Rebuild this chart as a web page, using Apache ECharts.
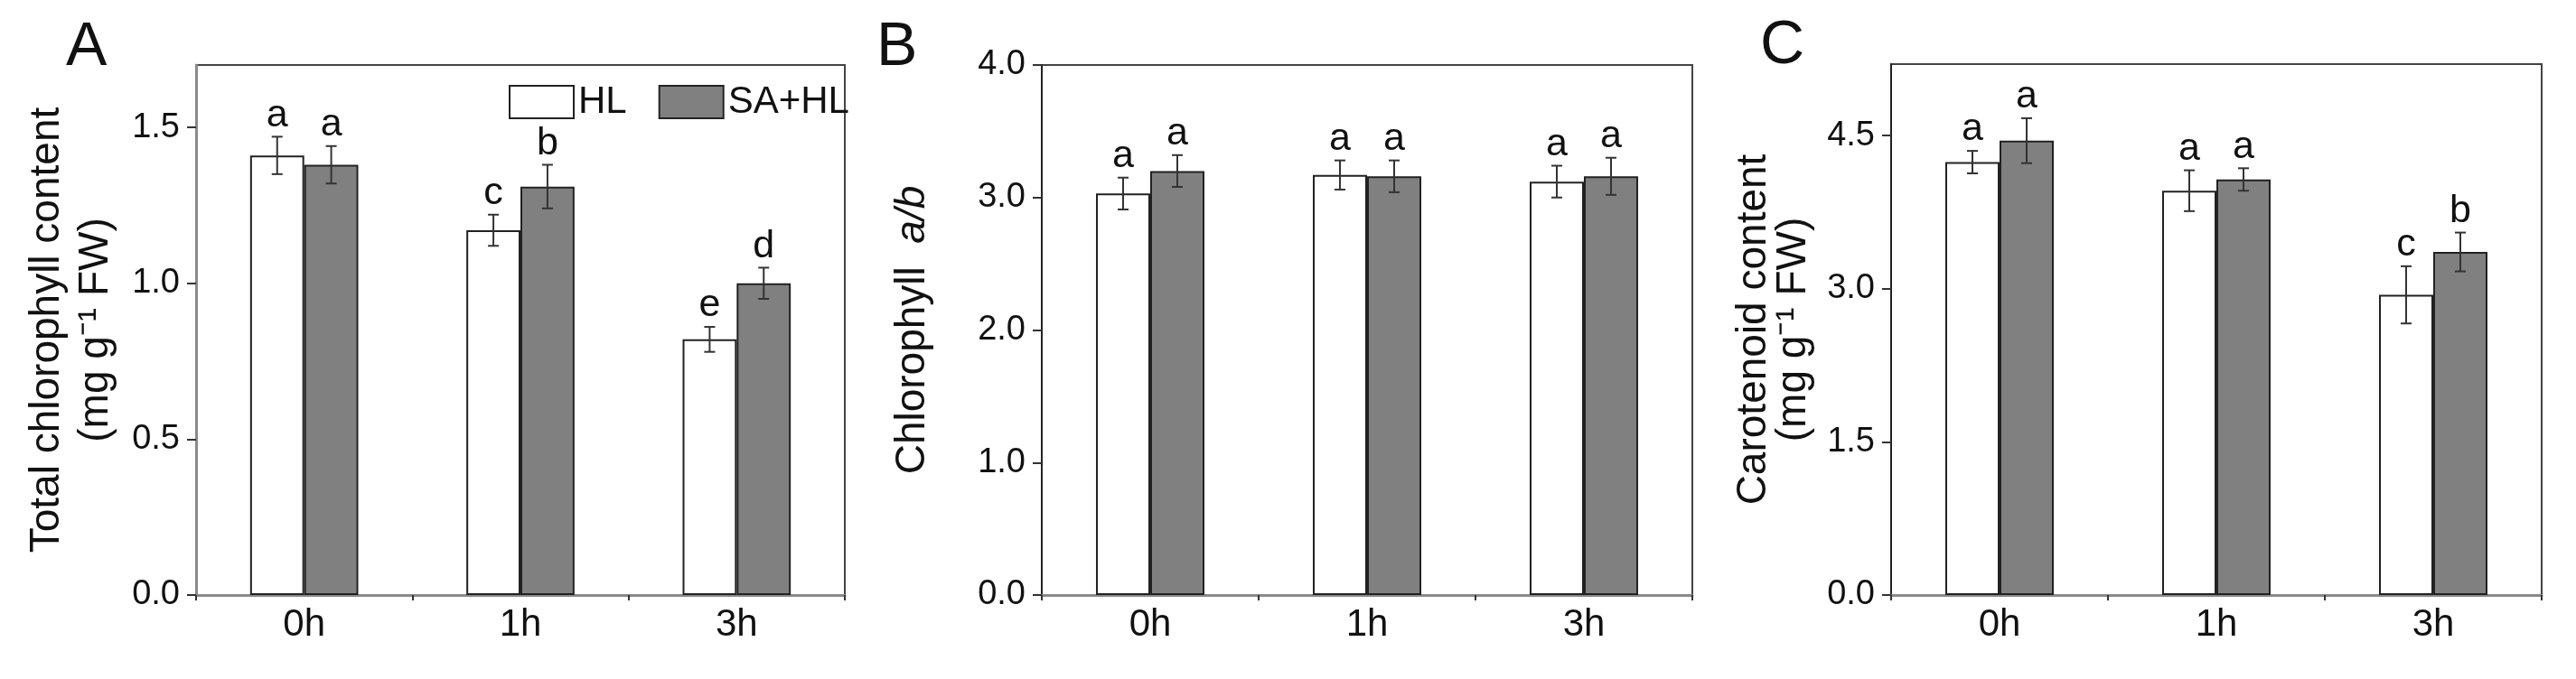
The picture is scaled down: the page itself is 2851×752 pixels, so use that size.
<!DOCTYPE html>
<html lang="en">
<head>
<meta charset="UTF-8">
<title>Chlorophyll and carotenoid content</title>
<script src="https://cdn.jsdelivr.net/npm/echarts@6/dist/echarts.min.js"></script>
<style>
  html, body { margin: 0; padding: 0; background: #fff; }
  #main { width: 2851px; height: 752px; }
</style>
</head>
<body>
<div id="main"></div>
<script>
var categories = ['0h', '1h', '3h'];

// A: total chlorophyll
var chlHL = [1.41, 1.17, 0.82];
var chlHLErr = [0.06, 0.05, 0.04];
var chlSA = [1.38, 1.31, 1.00];
var chlSAErr = [0.06, 0.07, 0.05];
var chlHLLetters = ['a', 'c', 'e'];
var chlSALetters = ['a', 'b', 'd'];

// B: chlorophyll a/b
var abHL = [3.03, 3.17, 3.12];
var abHLErr = [0.12, 0.11, 0.12];
var abSA = [3.20, 3.16, 3.16];
var abSAErr = [0.12, 0.12, 0.14];
var abHLLetters = ['a', 'a', 'a'];
var abSALetters = ['a', 'a', 'a'];

// C: carotenoid
var carHL = [4.24, 3.96, 2.94];
var carHLErr = [0.11, 0.20, 0.28];
var carSA = [4.45, 4.07, 3.36];
var carSAErr = [0.22, 0.11, 0.19];
var carHLLetters = ['a', 'a', 'c'];
var carSALetters = ['a', 'a', 'b'];

var FONT = '"Liberation Sans", Arial, sans-serif';
var INK = '#111';

function errData(vals, errs) {
    var out = [];
    for (var i = 0; i < vals.length; i++) {
        out.push([i, vals[i], errs[i]]);
    }
    return out;
}

// side: -1 for HL (left bar), +1 for SA+HL (right bar)
function errRenderer(side, letters) {
    return function (params, api) {
        var i = api.value(0), v = api.value(1), e = api.value(2);
        var band = api.size([1, 0])[0];
        var cx = api.coord([i, v])[0] + side * band * 0.125;
        var yHi = api.coord([i, v + e])[1];
        var yLo = api.coord([i, v - e])[1];
        var cap = 6;
        var st = { stroke: '#333', lineWidth: 2 };
        return {
            type: 'group',
            children: [
                { type: 'line', shape: { x1: cx, y1: yHi, x2: cx, y2: yLo }, style: st },
                { type: 'line', shape: { x1: cx - cap, y1: yHi, x2: cx + cap, y2: yHi }, style: st },
                { type: 'line', shape: { x1: cx - cap, y1: yLo, x2: cx + cap, y2: yLo }, style: st },
                {
                    type: 'text', x: cx, y: yHi - 2,
                    style: {
                        text: letters[params.dataIndex], fill: INK,
                        font: '43px ' + FONT,
                        align: 'center', verticalAlign: 'bottom'
                    }
                }
            ]
        };
    };
}

var grids = [
    { left: 217, top: 72, width: 718, height: 587 },
    { left: 1153, top: 72, width: 720, height: 587 },
    { left: 2093, top: 71, width: 720, height: 588 }
];

function xAxisFor(idx) {
    return {
        type: 'category', gridIndex: idx, data: categories,
        axisLine: { show: true, lineStyle: { color: '#8a8a8a', width: 3 } },
        axisTick: { show: true, length: 6, lineStyle: { color: '#333', width: 2 } },
        axisLabel: { fontSize: 42, fontFamily: FONT, color: INK, margin: 12 }
    };
}

function yAxisFor(idx, max, interval, name, gap, lineHeight, rich) {
    return {
        type: 'value', gridIndex: idx, min: 0, max: max, interval: interval,
        name: name, nameLocation: 'middle', nameRotate: 90, nameGap: gap,
        nameTextStyle: { fontSize: 46, fontFamily: FONT, color: INK, lineHeight: lineHeight, rich: rich },
        axisLine: { show: true, lineStyle: { color: idx === 0 ? '#8a8a8a' : '#222', width: idx === 0 ? 3 : 2 } },
        axisTick: { show: true, length: 10, lineStyle: { color: '#333', width: 2 } },
        splitLine: { show: false },
        axisLabel: {
            fontSize: 38, fontFamily: FONT, color: INK, margin: 18, showMaxLabel: max % interval === 0,
            formatter: function (v) { return v.toFixed(1); }
        }
    };
}

var hlStyle = { color: '#ffffff', borderColor: '#222', borderWidth: 2 };
var saStyle = { color: '#808080', borderColor: '#222', borderWidth: 2 };

function barPair(idx, hl, sa) {
    return [
        { name: 'HL', type: 'bar', xAxisIndex: idx, yAxisIndex: idx, data: hl,
          barGap: '0%', barCategoryGap: '50%', itemStyle: hlStyle },
        { name: 'SA+HL', type: 'bar', xAxisIndex: idx, yAxisIndex: idx, data: sa,
          barGap: '0%', barCategoryGap: '50%', itemStyle: saStyle }
    ];
}

function errPair(idx, hl, hlErr, hlLet, sa, saErr, saLet) {
    return [
        { type: 'custom', xAxisIndex: idx, yAxisIndex: idx, z: 5,
          data: errData(hl, hlErr), encode: { x: 0, y: 1 },
          renderItem: errRenderer(-1, hlLet) },
        { type: 'custom', xAxisIndex: idx, yAxisIndex: idx, z: 5,
          data: errData(sa, saErr), encode: { x: 0, y: 1 },
          renderItem: errRenderer(1, saLet) }
    ];
}

var chart = echarts.init(document.getElementById('main'));

var option = {
    backgroundColor: '#fff',
    animation: false,
    title: [
        { text: 'A', left: 68, top: 14, textStyle: { fontSize: 68, fontWeight: 'normal', fontFamily: FONT, color: INK } },
        { text: 'B', left: 965, top: 14, textStyle: { fontSize: 68, fontWeight: 'normal', fontFamily: FONT, color: INK } },
        { text: 'C', left: 1943, top: 12, textStyle: { fontSize: 68, fontWeight: 'normal', fontFamily: FONT, color: INK } }
    ],
    legend: {
        left: 558, top: 87, itemWidth: 71, itemHeight: 36, itemGap: 35,
        icon: 'rect',
        textStyle: { fontSize: 42, fontFamily: FONT, color: INK },
        data: ['HL', 'SA+HL']
    },
    grid: grids.map(function (g) {
        return Object.assign({ show: true, borderColor: '#444', borderWidth: 2, containLabel: false }, g);
    }),
    xAxis: [xAxisFor(0), xAxisFor(1), xAxisFor(2)],
    yAxis: [
        yAxisFor(0, 1.7, 0.5, 'Total chlorophyll content\n(mg g\u207B\u00B9 FW)', 84, 54),
        yAxisFor(1, 4, 1, '{n|Chlorophyll  }{i|a/b}', 118, 50, {
            n: { fontSize: 46, fontFamily: FONT, color: INK },
            i: { fontSize: 46, fontFamily: FONT, color: INK, fontStyle: 'italic' }
        }),
        yAxisFor(2, 5.2, 1.5, 'Carotenoid content\n(mg g\u207B\u00B9 FW)', 86, 44)
    ],
    series: []
        .concat(barPair(0, chlHL, chlSA))
        .concat(barPair(1, abHL, abSA))
        .concat(barPair(2, carHL, carSA))
        .concat(errPair(0, chlHL, chlHLErr, chlHLLetters, chlSA, chlSAErr, chlSALetters))
        .concat(errPair(1, abHL, abHLErr, abHLLetters, abSA, abSAErr, abSALetters))
        .concat(errPair(2, carHL, carHLErr, carHLLetters, carSA, carSAErr, carSALetters))
};

chart.setOption(option);
</script>
</body>
</html>
